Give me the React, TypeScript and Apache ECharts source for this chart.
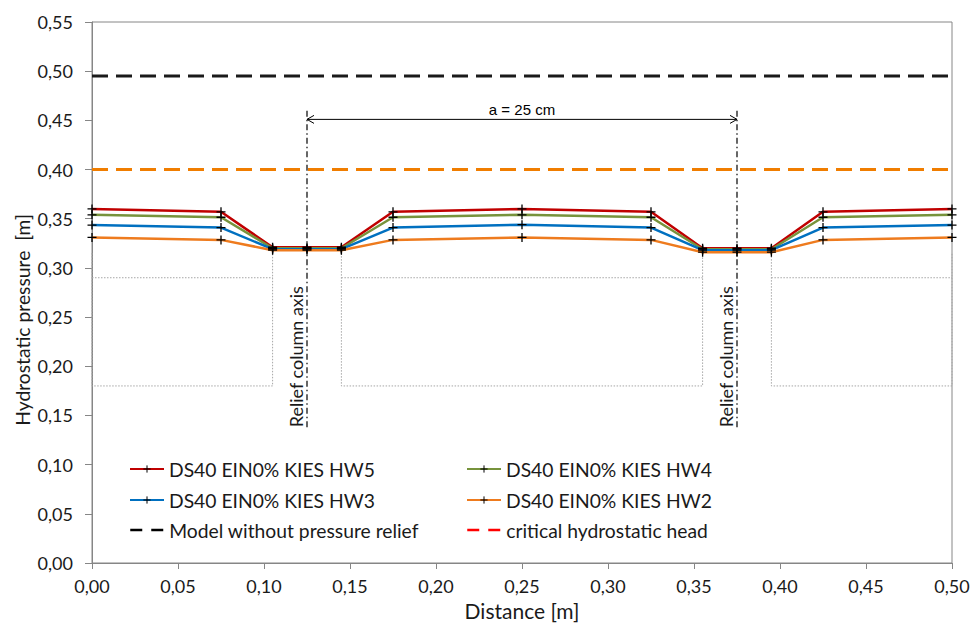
import React, { useEffect, useRef } from "react";
import * as echarts from "echarts";

// ---- data ----
const distance = [0, 0.075, 0.105, 0.125, 0.145, 0.175, 0.25, 0.325, 0.355, 0.375, 0.395, 0.425, 0.5];
const hw5 = [0.36, 0.357, 0.321, 0.321, 0.321, 0.357, 0.36, 0.357, 0.32, 0.32, 0.32, 0.357, 0.36];
const hw4 = [0.354, 0.3515, 0.32, 0.32, 0.32, 0.3515, 0.354, 0.3515, 0.319, 0.319, 0.319, 0.3515, 0.354];
const hw3 = [0.3435, 0.341, 0.319, 0.319, 0.319, 0.341, 0.344, 0.341, 0.318, 0.318, 0.318, 0.341, 0.3435];
const hw2 = [0.331, 0.3285, 0.318, 0.318, 0.318, 0.3285, 0.331, 0.3285, 0.316, 0.316, 0.316, 0.3285, 0.331];
const seriesNames = ["DS40 EIN0% KIES HW5", "DS40 EIN0% KIES HW4", "DS40 EIN0% KIES HW3", "DS40 EIN0% KIES HW2"];
const seriesValues = [hw5, hw4, hw3, hw2];
const seriesColors = ["#c00000", "#77933c", "#0070c0", "#ee7b1e"];

const modelName = "Model without pressure relief";
const modelLevel = 0.495;
const criticalName = "critical hydrostatic head";
const criticalLevel = 0.4;
const xRange = [0, 0.5];

const reliefAxes = [0.125, 0.375];
const reliefAxisRange = [0.138, 0.461];
const reliefLabel = "Relief column axis";
const spacingLevel = 0.451;
const spacingLabel = "a = 25 cm";

const blocks = [[0, 0.105], [0.145, 0.355], [0.395, 0.5]];
const wallTop = 0.315;
const layerLevels = [0.29, 0.18];

const FONT = "Lato, 'Noto Sans', sans-serif";
const TXT = "#1a1a1a";
const AXIS = "#868686";
const fmt = (v: number) => v.toFixed(2).replace(".", ",");

export default function App() {
  const ref = useRef<HTMLDivElement>(null);
  useEffect(() => {
    document.body.style.margin = "0";
    const chart = echarts.init(ref.current!, null, { renderer: "svg" });
    const plus = "path://M0,5L10,5M5,0L5,10";

    const dataSeries = seriesNames.map((name, i) => ({
      name,
      type: "line",
      data: distance.map((x, j) => [x, seriesValues[i][j]]),
      symbol: plus,
      symbolSize: 9,
      color: seriesColors[i],
      lineStyle: { width: 2.5, color: seriesColors[i] },
      itemStyle: { color: seriesColors[i], borderColor: "#000", borderWidth: 1.3 },
      z: 4,
      silent: true,
    }));

    const structSeries: any[] = [];
    blocks.forEach(([x0, x1]) => {
      structSeries.push({
        type: "line",
        data: [[x0, wallTop], [x0, layerLevels[1]], [x1, layerLevels[1]], [x1, wallTop]],
        symbol: "none",
        lineStyle: { color: "#a6a6a6", width: 1, type: [1.5, 1.5] },
        z: 2,
        silent: true,
      });
      structSeries.push({
        type: "line",
        data: [[x0, layerLevels[0]], [x1, layerLevels[0]]],
        symbol: "none",
        lineStyle: { color: "#a6a6a6", width: 1, type: [1.5, 1.5] },
        z: 2,
        silent: true,
      });
    });

    const reliefSeries = reliefAxes.map((x) => ({
      type: "line",
      data: [[x, reliefAxisRange[0]], [x, reliefAxisRange[1]]],
      symbol: "none",
      lineStyle: { color: "#000", width: 1.2, type: [6, 3, 1.5, 3] },
      z: 6,
      silent: true,
    }));

    const spacingSeries = {
      type: "line",
      data: [[reliefAxes[0], spacingLevel], [reliefAxes[1], spacingLevel]],
      symbol: "none",
      lineStyle: { color: "#000", width: 1 },
      z: 6,
      silent: true,
    };

    const refSeries = [
      {
        name: modelName,
        type: "line",
        data: xRange.map((x) => [x, modelLevel]),
        symbol: "none",
        lineStyle: { color: "#1a1a1a", width: 3, type: [16, 8] },
        color: "#1a1a1a",
        z: 5,
        silent: true,
      },
      {
        name: criticalName,
        type: "line",
        data: xRange.map((x) => [x, criticalLevel]),
        symbol: "none",
        lineStyle: { color: "#f07d00", width: 3, type: [16, 8] },
        color: "#f07d00",
        z: 5,
        silent: true,
      },
    ];

    const legendCells: [string, number, number, any][] = [
      [seriesNames[0], 129, 459, {}],
      [seriesNames[2], 129, 490, {}],
      [modelName, 129, 520, { itemStyle: { opacity: 0 }, lineStyle: { color: "#000", width: 2.5, type: [12, 9] } }],
      [seriesNames[1], 466, 459, {}],
      [seriesNames[3], 466, 490, {}],
      [criticalName, 466, 520, { itemStyle: { opacity: 0 }, lineStyle: { color: "#ff0000", width: 2.5, type: [12, 9] } }],
    ];

    const legends = legendCells.map(([name, left, top, extra]) => ({
      data: [{ name, ...extra }],
      left,
      top,
      padding: 0,
      itemWidth: 34,
      itemHeight: 9,
      itemGap: 0,
      selectedMode: false,
      itemStyle: { borderWidth: 1 },
      textStyle: { fontFamily: FONT, fontSize: 19.3, color: TXT, lineHeight: 20 },
    }));

    const option: any = {
      animation: false,
      backgroundColor: "#fff",
      grid: {
        left: 92,
        right: 24,
        top: 22,
        bottom: 60,
        show: true,
        borderColor: AXIS,
        borderWidth: 1,
        containLabel: false,
        outerBoundsMode: "none",
      },
      legend: legends,
      xAxis: {
        type: "value",
        min: 0,
        max: 0.5,
        interval: 0.05,
        name: "Distance [m]",
        nameLocation: "middle",
        nameGap: 34,
        nameTextStyle: { fontFamily: FONT, fontSize: 21, color: TXT, lineHeight: 22 },
        axisLine: { show: true, lineStyle: { color: AXIS, width: 1 } },
        axisTick: { show: true, length: 6, lineStyle: { color: AXIS } },
        axisLabel: { formatter: fmt, margin: 14, fontFamily: FONT, fontSize: 18, color: TXT },
        splitLine: { show: false },
      },
      yAxis: {
        type: "value",
        min: 0,
        max: 0.55,
        interval: 0.05,
        axisLine: { show: true, lineStyle: { color: AXIS, width: 1 } },
        axisTick: { show: true, length: 7, lineStyle: { color: AXIS } },
        axisLabel: { formatter: fmt, margin: 19, fontFamily: FONT, fontSize: 18, color: TXT },
        splitLine: { show: false },
      },
      series: [...structSeries, ...dataSeries, ...refSeries, ...reliefSeries, spacingSeries],
    };
    chart.setOption(option);

    const px = (x: number, y: number) => chart.convertToPixel({ gridIndex: 0 }, [x, y]) as number[];
    const [aL, aY] = px(reliefAxes[0], spacingLevel);
    const [aR] = px(reliefAxes[1], spacingLevel);
    const graphics: any[] = [
      {
        type: "polyline",
        shape: { points: [[aL + 7, aY - 4], [aL, aY], [aL + 7, aY + 4]] },
        style: { stroke: "#000", lineWidth: 1, fill: "none" },
        z: 10,
      },
      {
        type: "polyline",
        shape: { points: [[aR - 7, aY - 4], [aR, aY], [aR - 7, aY + 4]] },
        style: { stroke: "#000", lineWidth: 1, fill: "none" },
        z: 10,
      },
      {
        type: "text",
        x: (aL + aR) / 2,
        y: aY - 10,
        style: {
          text: spacingLabel,
          fontFamily: "'Liberation Sans', Arial, sans-serif",
          fontSize: 15,
          fill: "#000",
          align: "center",
          verticalAlign: "middle",
        },
        z: 10,
      },
      {
        type: "text",
        x: 22,
        y: 320,
        rotation: Math.PI / 2,
        style: {
          text: "Hydrostatic pressure  [m]",
          fontFamily: FONT,
          fontSize: 19.3,
          fill: TXT,
          align: "center",
          verticalAlign: "middle",
        },
      },
    ];
    reliefAxes.forEach((x) => {
      const [rx, ry] = px(x, reliefAxisRange[0]);
      graphics.push({
        type: "text",
        x: rx - 11,
        y: ry,
        rotation: Math.PI / 2,
        style: {
          text: reliefLabel,
          fontFamily: FONT,
          fontSize: 18,
          fill: TXT,
          align: "left",
          verticalAlign: "middle",
        },
        z: 10,
      });
    });
    chart.setOption({ graphic: graphics });

    return () => chart.dispose();
  }, []);
  return <div ref={ref} style={{ width: 976, height: 623 }} />;
}
